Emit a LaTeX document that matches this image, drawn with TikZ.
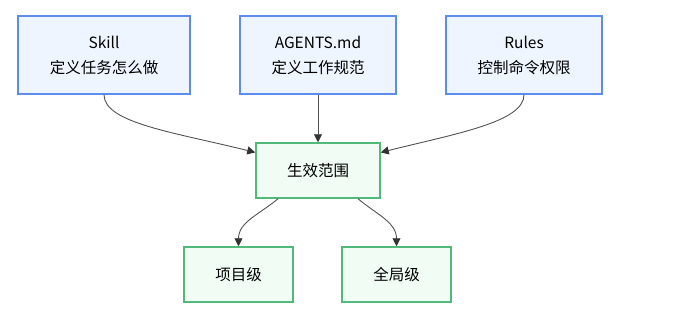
\documentclass[tikz,border=0pt]{standalone}
\usepackage{fontspec}
\setmainfont{Noto Sans CJK SC}
\usetikzlibrary{arrows.meta,calc}
\definecolor{sky}{RGB}{94,140,236}
\definecolor{skyfill}{RGB}{239,245,255}
\definecolor{leaf}{RGB}{82,186,120}
\definecolor{leaffill}{RGB}{240,252,244}
\definecolor{ink}{RGB}{51,51,51}
\tikzset{
  >={Triangle[length=8pt,width=8pt,color=ink]},
  srcbox/.style={draw=sky,fill=skyfill,line width=1.5pt,inner sep=0pt,
    minimum width=156pt,minimum height=78pt,align=center,
    font=\fontsize{15.5}{25}\selectfont},
  scopebox/.style={draw=leaf,fill=leaffill,line width=1.5pt,inner sep=0pt,
    minimum width=109pt,minimum height=55pt,align=center,
    font=\fontsize{15.5}{25}\selectfont},
  flow/.style={->,line width=0.9pt,draw=ink!85},
}
\begin{document}
\begin{tikzpicture}[x=1pt,y=1pt]
  \useasboundingbox (0,0) rectangle (698,-334);
  % sources
  \node[srcbox,minimum width=172pt] (skill) at (104,-55) {Skill\\定义任务怎么做};
  \node[srcbox] (agents) at (318,-55) {AGENTS.md\\定义工作规范};
  \node[srcbox] (rules) at (524,-55) {Rules\\控制命令权限};
  % scope
  \node[scopebox,minimum width=124pt] (scope) at (318,-170.5) {生效范围};
  \node[scopebox] (proj) at (238.5,-274.5) {项目级};
  \node[scopebox] (glob) at (396.5,-274.5) {全局级};
  % connectors
  \draw[flow] (skill.south) to[out=-90,in=166,out looseness=0.45,in looseness=1.3]
    ($(scope.north west)!0.18!(scope.south west)$);
  \draw[flow] (agents.south) -- (scope.north);
  \draw[flow] (rules.south) to[out=-90,in=14,out looseness=0.45,in looseness=1.3]
    ($(scope.north east)!0.18!(scope.south east)$);
  \draw[flow] ($(scope.south)+(-40,0)$) to[out=-140,in=90] (proj.north);
  \draw[flow] ($(scope.south)+(40,0)$) to[out=-40,in=90] (glob.north);
\end{tikzpicture}
\end{document}
